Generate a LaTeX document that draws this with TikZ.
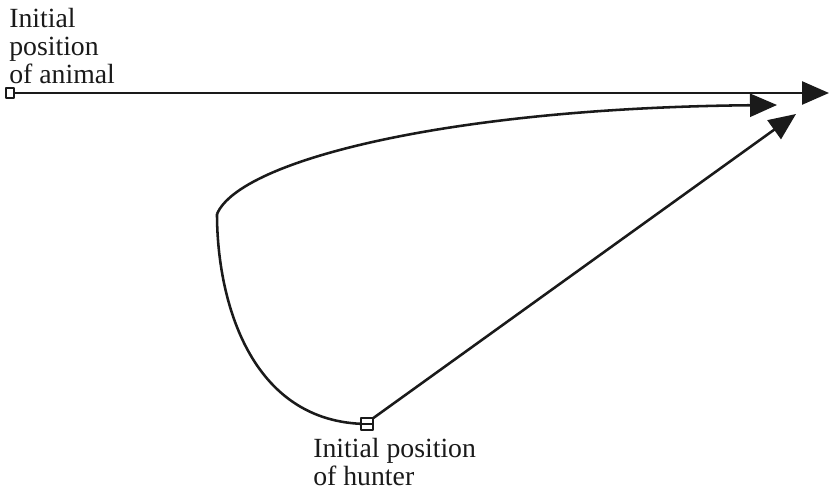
\documentclass[tikz,border=0pt]{standalone}
\usepackage{fontspec}
\setmainfont{Liberation Serif}
\usetikzlibrary{arrows.meta}
\definecolor{ink}{HTML}{1A1A1A}

\begin{document}
\begin{tikzpicture}[
  x=0.02cm,y=-0.02cm,draw=ink,text=ink,
  line width=1.45pt,line cap=butt,line join=round,
  >={Triangle[length=0.54cm,width=0.46cm]},
  posbox/.style={draw,fill=white,line width=1.3pt,inner sep=0pt},
  lbl/.style={font=\fontsize{15.8}{15.9}\selectfont,align=left,
    inner sep=0pt,anchor=north west}
]
\useasboundingbox (0,0) rectangle (831,489);

% Start points and the ends of the three runs.
\coordinate (tipA) at (829,93);
\coordinate (tipB) at (777,105);
\coordinate (tipC) at (796,114);
\coordinate (turn) at (217,214);

% Animal runs straight to the right.
\draw[->] (10,93) -- (tipA);

% Hunter: curved chase and straight intercept.
\draw (367,424) .. controls (250,423) and (217,300) .. (turn);
\draw[->] (turn) .. controls (240,160) and (450,108) .. (tipB);
\draw[->] (372,419) -- (tipC);

\node[posbox,minimum width=0.15cm,minimum height=0.19cm] (animal) at (10,93) {};
\node[posbox,minimum width=0.25cm,minimum height=0.23cm] (hunter) at (367,424) {};
\draw[line width=1.3pt] (hunter.west) -- (hunter.east);

\node[lbl] (ta) at (8,7) {Initial\\position\\of animal};
\node[lbl] (th) at (312,437) {Initial position\\of hunter};

\end{tikzpicture}
\end{document}
